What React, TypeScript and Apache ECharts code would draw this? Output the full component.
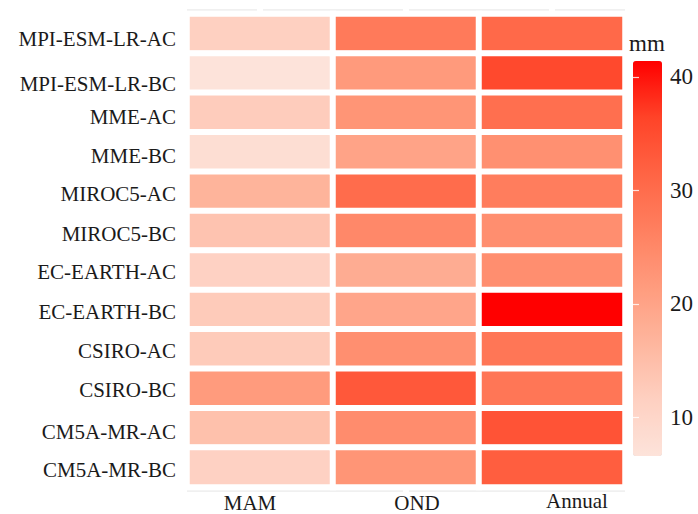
import { useEffect, useRef } from "react";
import * as echarts from "echarts";

const models = [
  "MPI-ESM-LR-AC",
  "MPI-ESM-LR-BC",
  "MME-AC",
  "MME-BC",
  "MIROC5-AC",
  "MIROC5-BC",
  "EC-EARTH-AC",
  "EC-EARTH-BC",
  "CSIRO-AC",
  "CSIRO-BC",
  "CM5A-MR-AC",
  "CM5A-MR-BC",
];
const seasons = ["MAM", "OND", "Annual"];

const mam = [11.6, 6.6, 12.3, 8.0, 17.0, 14.0, 11.2, 12.6, 12.6, 21.5, 14.5, 11.2];
const ond = [27.5, 21.7, 22.7, 20.0, 30.0, 25.0, 18.3, 19.6, 23.8, 33.2, 24.2, 22.7];
const annual = [30.5, 35.5, 29.5, 23.5, 27.0, 24.0, 24.0, 41.4, 28.3, 28.3, 34.0, 32.3];

const legendTicks = [10, 20, 30, 40];
const scaleMin = 6.6;
const scaleMax = 41.4;
const rampColors = [
  "#fde3da",
  "#fed0c1",
  "#feb69e",
  "#ff9b7d",
  "#ff8060",
  "#ff6444",
  "#ff4328",
  "#ff0000",
];

const FONT = "'Liberation Serif', 'Times New Roman', Times, serif";
const TXT = "#1a1a1a";

// small label nudges (layout only)
const yNudge = [5, 11, 4, 4, 3, 3, 2, 2, 2, 2, 4, 3];
const xPad: Record<string, number[]> = {
  MAM: [2, 20, 0, 0],
  OND: [2, 0, 0, 22],
  Annual: [0, 0, 0, 50],
};

export default function App() {
  const ref = useRef<HTMLDivElement>(null);
  useEffect(() => {
    const chart = echarts.init(ref.current!, null, { renderer: "svg" });
    const cols = [mam, ond, annual];
    const data: number[][] = [];
    cols.forEach((arr, x) => arr.forEach((v, y) => data.push([x, y, v])));

    const yRich: Record<string, any> = {};
    yNudge.forEach((d, i) => {
      yRich["n" + i] = { fontFamily: FONT, fontSize: 21, color: TXT, padding: [2 * d, 0, 0, 0] };
    });
    const xRich: Record<string, any> = {};
    seasons.forEach((s, i) => {
      xRich["s" + i] = { fontFamily: FONT, fontSize: 21, color: TXT, padding: xPad[s] };
    });

    const lineStyle = { stroke: "#ebebeb", lineWidth: 1.3 };
    const seg = (x1: number, x2: number, y: number) => ({
      type: "line",
      shape: { x1, y1: y, x2, y2: y },
      style: lineStyle,
      silent: true,
    });

    chart.setOption({
      animation: false,
      backgroundColor: "#ffffff",
      textStyle: { fontFamily: FONT },
      title: {
        text: "mm",
        left: 629,
        top: 32,
        padding: 0,
        textStyle: { fontFamily: FONT, fontSize: 23, fontWeight: "normal", color: TXT },
      },
      grid: [
        { left: 187, top: 14, width: 438, height: 473, containLabel: false, outerBoundsMode: "none" },
        { left: 633, top: 61, width: 29, height: 395, containLabel: false, outerBoundsMode: "none" },
      ],
      xAxis: [
        {
          type: "category",
          data: seasons,
          gridIndex: 0,
          axisLine: { show: false },
          axisTick: { show: false },
          splitLine: { show: false },
          axisLabel: {
            margin: 3,
            fontFamily: FONT,
            fontSize: 21,
            formatter: (v: string, i: number) => `{s${i}|${v}}`,
            rich: xRich,
          },
        },
        { type: "value", gridIndex: 1, show: false, min: 0, max: 1 },
      ],
      yAxis: [
        {
          type: "category",
          data: models,
          inverse: true,
          gridIndex: 0,
          axisLine: { show: false },
          axisTick: { show: false },
          splitLine: { show: false },
          axisLabel: {
            margin: 11,
            fontFamily: FONT,
            fontSize: 21,
            formatter: (v: string, i: number) => `{n${i}|${v}}`,
            rich: yRich,
          },
        },
        {
          type: "value",
          gridIndex: 1,
          min: scaleMin,
          max: scaleMax,
          position: "right",
          z: 10,
          axisLine: { show: false },
          splitLine: { show: false },
          axisTick: {
            show: true,
            inside: true,
            length: 6,
            customValues: legendTicks,
            lineStyle: { color: "rgba(255,255,255,0.8)", width: 1.2 },
          },
          axisLabel: {
            customValues: legendTicks,
            margin: 8,
            fontFamily: FONT,
            fontSize: 23,
            color: TXT,
          },
        },
        {
          type: "value",
          gridIndex: 1,
          min: scaleMin,
          max: scaleMax,
          position: "left",
          z: 10,
          axisLine: { show: false },
          splitLine: { show: false },
          axisLabel: { show: false },
          axisTick: {
            show: true,
            inside: true,
            length: 6,
            customValues: legendTicks,
            lineStyle: { color: "rgba(255,255,255,0.8)", width: 1.2 },
          },
        },
      ],
      visualMap: {
        type: "continuous",
        min: scaleMin,
        max: scaleMax,
        seriesIndex: 0,
        orient: "vertical",
        left: 633,
        top: 61,
        padding: 0,
        itemWidth: 29,
        itemHeight: 395,
        calculable: false,
        hoverLink: false,
        inRange: { color: rampColors },
      },
      series: [
        {
          type: "heatmap",
          xAxisIndex: 0,
          yAxisIndex: 0,
          data,
          itemStyle: { borderColor: "#ffffff", borderWidth: 6 },
        },
      ],
      graphic: [
        seg(187, 257, 10),
        seg(263, 403, 10),
        seg(409, 549, 10),
        seg(555, 625, 10),
        seg(187, 403, 491),
        seg(409, 625, 491),
      ],
    });
    return () => chart.dispose();
  }, []);
  return (
    <div
      ref={ref}
      style={{ position: "absolute", left: 0, top: 0, width: 698, height: 514 }}
    />
  );
}
